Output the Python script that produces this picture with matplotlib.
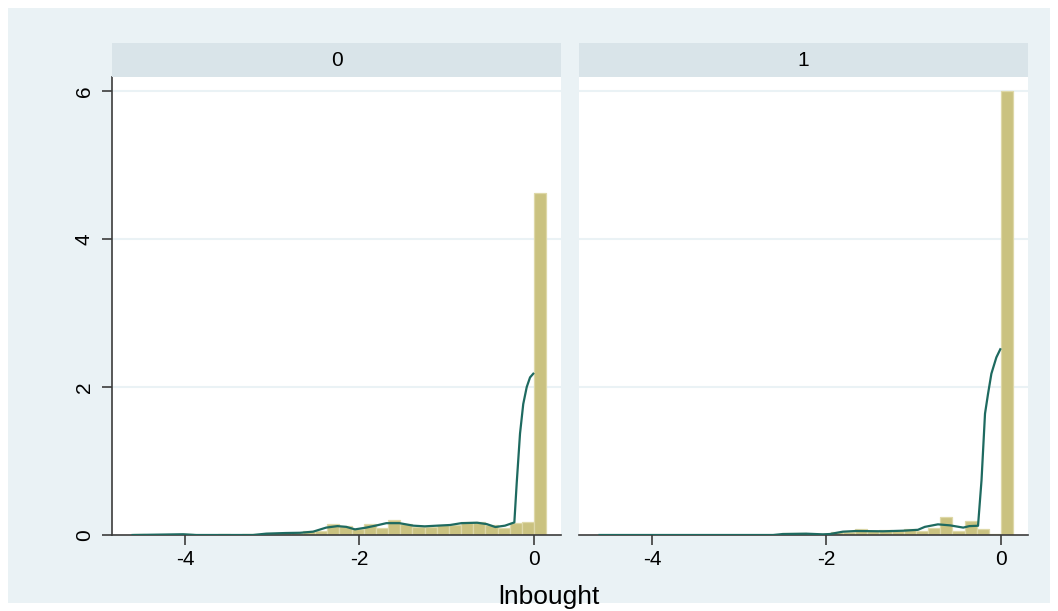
import matplotlib
matplotlib.use("Agg")
import matplotlib.pyplot as plt
from matplotlib.patches import Rectangle
import numpy as np

# ---------------- data ----------------
panel_titles = ["0", "1"]
bin_start = -4.6
bin_width = 0.1395

# histogram densities per bin (34 bins)
dens0 = [0.01, 0.0, 0.0, 0.0, 0.01, 0.0, 0.005, 0.01, 0.0, 0.01,
         0.01, 0.027, 0.027, 0.027, 0.05, 0.05, 0.148, 0.126, 0.075, 0.148,
         0.10, 0.206, 0.148, 0.11, 0.11, 0.14, 0.135, 0.17, 0.175, 0.14,
         0.09, 0.157, 0.18, 4.62]
dens1 = [0.0, 0.0, 0.0, 0.0, 0.0, 0.0, 0.0, 0.0, 0.0, 0.0,
         0.0, 0.0, 0.0, 0.0, 0.0, 0.025, 0.025, 0.0, 0.01, 0.045,
         0.045, 0.076, 0.05, 0.07, 0.058, 0.08, 0.05, 0.10, 0.24, 0.06,
         0.19, 0.08, 0.015, 6.0]

# kernel density curves
kx0 = [-4.6, -4.02, -3.87, -3.22, -3.07, -2.84, -2.68, -2.53, -2.38, -2.25,
       -2.15, -2.05, -1.92, -1.80, -1.69, -1.54, -1.38, -1.25, -1.11, -0.96,
       -0.83, -0.65, -0.54, -0.44, -0.33, -0.222, -0.195, -0.157, -0.12, -0.08,
       -0.042, -0.005]
ky0 = [0.0, 0.01, 0.0, 0.0, 0.018, 0.027, 0.03, 0.045, 0.10, 0.12,
       0.11, 0.076, 0.10, 0.13, 0.16, 0.16, 0.126, 0.117, 0.126, 0.135,
       0.16, 0.166, 0.148, 0.108, 0.126, 0.17, 0.70, 1.37, 1.77, 2.0,
       2.13, 2.18]
kx1 = [-4.6, -2.61, -2.5, -2.23, -2.04, -1.96, -1.81, -1.66, -1.35, -1.12,
       -0.95, -0.87, -0.72, -0.58, -0.43, -0.36, -0.26, -0.22, -0.18, -0.145,
       -0.107, -0.05, -0.005]
ky1 = [0.0, 0.0, 0.013, 0.018, 0.009, 0.013, 0.045, 0.054, 0.05, 0.058,
       0.07, 0.11, 0.144, 0.13, 0.10, 0.12, 0.125, 0.74, 1.64, 1.91,
       2.18, 2.4, 2.51]

xticks = [-4, -2, 0]
yticks = [0, 2, 4, 6]
xlabel = "lnbought"

# ---------------- style ----------------
W, H = 1058, 611
bg = (234/255, 242/255, 245/255)
strip_c = (217/255, 228/255, 233/255)
bar_c = (202/255, 194/255, 128/255)
bar_edge = (222/255, 216/255, 168/255)
line_c = (30/255, 106/255, 96/255)
axis_c = (60/255, 60/255, 60/255)
grid_c = (234/255, 242/255, 245/255)

plt.rcParams['font.family'] = ['Liberation Sans', 'DejaVu Sans']

fig = plt.figure(figsize=(W/100, H/100), dpi=100)
fig.patch.set_facecolor('white')
fig.patches.append(Rectangle((8/W, 8/H), (1050-8)/W, (603-8)/H,
                             transform=fig.transFigure, facecolor=bg,
                             edgecolor='none', zorder=-10))

def fx(px):
    return px / W

def fy(py):
    return 1 - py / H

panels = [(112, 561), (579, 1028)]
top, bottom = 77, 535
strip_top = 43
xlim = (-4.836, 0.313)
ylim = (0, 6.19)

edges = bin_start + bin_width * np.arange(len(dens0) + 1)
data = [(dens0, kx0, ky0), (dens1, kx1, ky1)]

for i, ((l, r), (dens, kx, ky)) in enumerate(zip(panels, data)):
    ax = fig.add_axes([fx(l), fy(bottom), (r - l)/W, (bottom - top)/H])
    ax.set_facecolor('white')
    ax.bar(edges[:-1], dens, width=bin_width, align='edge', color=bar_c,
           edgecolor=bar_edge, linewidth=0.9, zorder=2)
    ax.plot(kx, ky, color=line_c, linewidth=1.6, zorder=3)
    ax.set_xlim(*xlim)
    ax.set_ylim(*ylim)
    for yv in yticks[1:]:
        ax.axhline(yv, color=grid_c, linewidth=1.5, zorder=1)
    for s in ['top', 'right']:
        ax.spines[s].set_visible(False)
    ax.spines['bottom'].set_color(axis_c)
    ax.spines['bottom'].set_linewidth(1.2)
    ax.set_xticks(xticks)
    ax.set_xticklabels([str(t) for t in xticks])
    ax.tick_params(axis='x', direction='out', length=7, width=1.2,
                   color=axis_c, labelsize=15, pad=4)
    if i == 0:
        ax.spines['left'].set_color(axis_c)
        ax.spines['left'].set_linewidth(1.2)
        ax.set_yticks(yticks)
        ax.set_yticklabels([str(t) for t in yticks], rotation=90, va='center')
        ax.tick_params(axis='y', direction='out', length=7, width=1.2,
                       color=axis_c, labelsize=15, pad=6)
    else:
        ax.spines['left'].set_visible(False)
        ax.set_yticks([])
    # strip
    sax = fig.add_axes([fx(l), fy(top), (r - l)/W, (top - strip_top)/H])
    sax.set_facecolor(strip_c)
    sax.set_xticks([]); sax.set_yticks([])
    for s in sax.spines.values():
        s.set_visible(False)
    sax.text(0.5, 0.5, panel_titles[i], ha='center', va='center',
             fontsize=15, transform=sax.transAxes)

fig.text(fx(549), fy(597), xlabel, ha='center', va='center', fontsize=19)

fig.savefig('out.png', dpi=100)
